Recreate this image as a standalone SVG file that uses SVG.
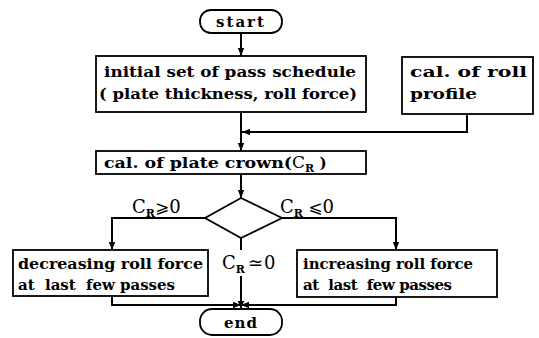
<svg xmlns="http://www.w3.org/2000/svg" width="539" height="338" viewBox="0 0 539 338">
<style>
.b{fill:#fff;stroke:#000;stroke-width:1.8}
.t{font-family:"DejaVu Serif","Liberation Serif",serif;font-weight:bold;font-size:15px;fill:#000}
.l{font-family:"DejaVu Serif","Liberation Serif",serif;font-size:18px;fill:#000}
.s{font-size:11px;font-weight:bold}
.c{fill:none;stroke:#000;stroke-width:2}
</style>
<defs>
<marker id="a" viewBox="0 0 10 10" refX="10" refY="5" markerWidth="9" markerHeight="8" markerUnits="userSpaceOnUse" orient="auto">
<path d="M0,1 L10,5 L0,9 Z" fill="#000"/>
</marker>
</defs>
<g id="connectors">
<path class="c" d="M241,33 V56" marker-end="url(#a)"/>
<path class="c" d="M241,112 V151" marker-end="url(#a)"/>
<path class="c" d="M467,114 V132 H242" marker-end="url(#a)"/>
<path class="c" d="M241,174 V198" marker-end="url(#a)"/>
<path class="c" d="M205,218 H112 V250" marker-end="url(#a)"/>
<path class="c" d="M281,218 H396 V250" marker-end="url(#a)"/>
<path class="c" d="M241,238 V250"/>
<path class="c" d="M241,276 V309" marker-end="url(#a)"/>
<path class="c" d="M112,296 V305 H241" marker-end="url(#a)"/>
<path class="c" d="M396,297 V305 H241" marker-end="url(#a)"/>
</g>
<g id="start">
<rect class="b" x="200" y="10" width="82" height="23" rx="11"/>
<text class="t" x="241" y="27" text-anchor="middle" letter-spacing="2">start</text>
</g>
<g id="initial">
<rect class="b" x="96" y="56" width="270" height="56"/>
<text class="t" x="104" y="77" textLength="252" lengthAdjust="spacingAndGlyphs">initial set of pass schedule</text>
<text class="t" x="99" y="99" textLength="258" lengthAdjust="spacingAndGlyphs">( plate thickness, roll force)</text>
</g>
<g id="rollprofile">
<rect class="b" x="402" y="57" width="131" height="57"/>
<text class="t" x="410" y="77" textLength="117" lengthAdjust="spacingAndGlyphs">cal. of roll</text>
<text class="t" x="410" y="99" textLength="67" lengthAdjust="spacingAndGlyphs">profile</text>
</g>
<g id="crown">
<rect class="b" x="96" y="151" width="270" height="23"/>
<text class="t" x="104" y="168"><tspan textLength="188" lengthAdjust="spacingAndGlyphs">cal. of plate crown(</tspan><tspan font-weight="normal" font-size="17">C</tspan><tspan class="s" dy="4">R</tspan><tspan dy="-4"> )</tspan></text>
</g>
<g id="decision">
<path class="b" d="M241,198 L282,218 L241,238 L205,218 Z"/>
<text class="l" x="132" y="213">C<tspan class="s" dy="4">R</tspan><tspan dy="-4" font-family="DejaVu Sans" font-size="17">⩾</tspan>0</text>
<text class="l" x="280" y="213">C<tspan class="s" dy="4">R</tspan><tspan dy="-4" font-family="DejaVu Sans" font-size="17"> ⩽</tspan>0</text>
<text class="l" x="222" y="269">C<tspan class="s" dy="4">R</tspan><tspan dy="-4" font-family="DejaVu Sans" font-size="18" dx="3">≃</tspan><tspan dx="1">0</tspan></text>
</g>
<g id="decreasing">
<rect class="b" x="13" y="250" width="195" height="46"/>
<text class="t" x="18" y="269" textLength="185" lengthAdjust="spacingAndGlyphs">decreasing roll force</text>
<text class="t" x="18" y="290" textLength="157" lengthAdjust="spacing" xml:space="preserve">at  last  few passes</text>
</g>
<g id="increasing">
<rect class="b" x="297" y="250" width="200" height="47"/>
<text class="t" x="303" y="269" textLength="170" lengthAdjust="spacingAndGlyphs">increasing roll force</text>
<text class="t" x="303" y="290" textLength="149" lengthAdjust="spacing" xml:space="preserve">at  last  few passes</text>
</g>
<g id="end">
<rect class="b" x="200" y="309" width="82" height="26" rx="12"/>
<text class="t" x="241" y="328" text-anchor="middle" letter-spacing="1">end</text>
</g>
</svg>
